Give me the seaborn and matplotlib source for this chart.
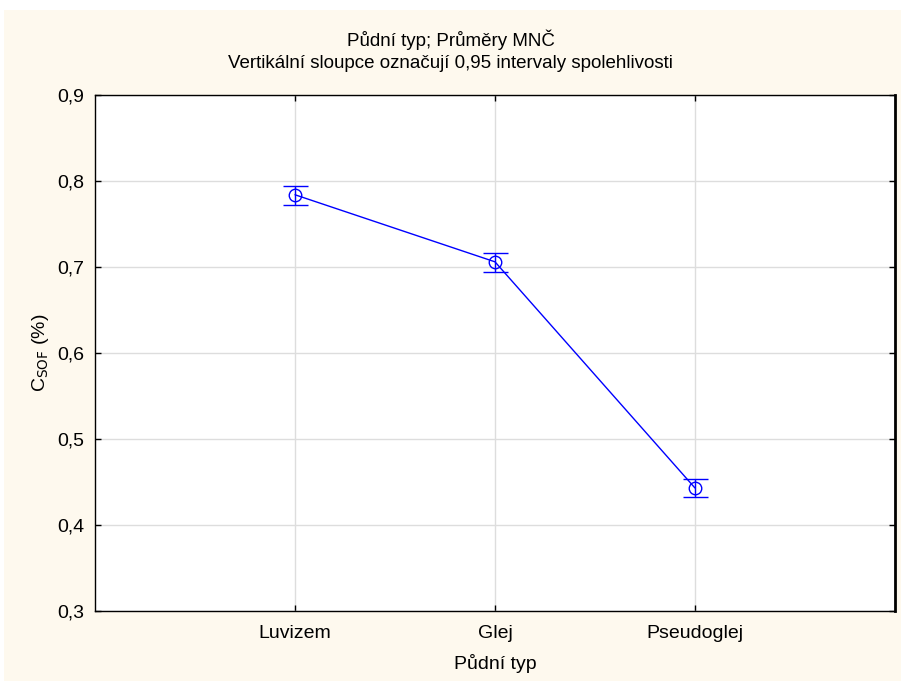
import matplotlib
matplotlib.use("Agg")
import matplotlib.pyplot as plt
import seaborn as sns
import pandas as pd
from matplotlib.patches import Rectangle

categories = ["Luvizem", "Glej", "Pseudoglej"]
means = [0.784, 0.706, 0.443]
ci_low = [0.772, 0.694, 0.432]
ci_high = [0.794, 0.716, 0.454]
yticks = [0.3, 0.4, 0.5, 0.6, 0.7, 0.8, 0.9]

sns.set_theme(style="white")
plt.rcParams['font.family'] = ['Liberation Sans', 'DejaVu Sans']
plt.rcParams['text.color'] = 'black'
plt.rcParams['axes.labelcolor'] = 'black'

df = pd.DataFrame({"typ": categories, "mean": means, "lo": ci_low, "hi": ci_high})
df["x"] = range(1, len(categories) + 1)

fig = plt.figure(figsize=(9.01, 6.81), dpi=100, facecolor="white")
fig.patches.append(Rectangle((4/901, 0), 1, 1 - 10/681, transform=fig.transFigure,
                             facecolor="#FEF9EE", edgecolor="none", zorder=-10))
ax = fig.add_axes([95/901, 1 - 611/681, 800/901, 516/681])
ax.set_facecolor("white")

ax.errorbar(df["x"], df["mean"], yerr=[df["mean"] - df["lo"], df["hi"] - df["mean"]],
            fmt="none", ecolor="#0000FF", elinewidth=1, capsize=9, capthick=1, zorder=3)
sns.lineplot(data=df, x="x", y="mean", ax=ax, color="#0000FF", linewidth=1,
             marker="o", markersize=9, markerfacecolor="none", markeredgecolor="#0000FF",
             markeredgewidth=1, zorder=4)

ax.set_xlim(0, 4)
ax.set_ylim(0.3, 0.9)
ax.set_xticks(df["x"])
ax.set_xticklabels(categories, fontsize=14)
ax.set_yticks(yticks)
ax.set_yticklabels([f"{v:.1f}".replace(".", ",") for v in yticks], fontsize=14)
ax.grid(True, color="#DDDDDD", linewidth=1)
ax.set_axisbelow(True)
ax.tick_params(direction="in", length=4, width=1, color="black", top=True, right=True,
               bottom=True, left=True, pad=10, labelcolor="black")
ax.tick_params(axis="y", pad=8)
for s in ax.spines.values():
    s.set_color("black")
    s.set_linewidth(1)
    s.set_visible(True)
ax.spines["right"].set_linewidth(2)

ax.set_xlabel("Půdní typ", fontsize=14, labelpad=9, color="black")
ax.set_ylabel(r"C$_{\mathrm{SOF}}$ (%)", fontsize=14, labelpad=4, color="black")

fig.text(0.5, 1 - 40/681, "Půdní typ; Průměry MNČ", ha="center", va="center",
         fontsize=13.5, color="black")
fig.text(0.5, 1 - 64/681, "Vertikální sloupce označují 0,95 intervaly spolehlivosti",
         ha="center", va="center", fontsize=13.5, color="black")

fig.savefig("out.png", dpi=100, facecolor=fig.get_facecolor())
